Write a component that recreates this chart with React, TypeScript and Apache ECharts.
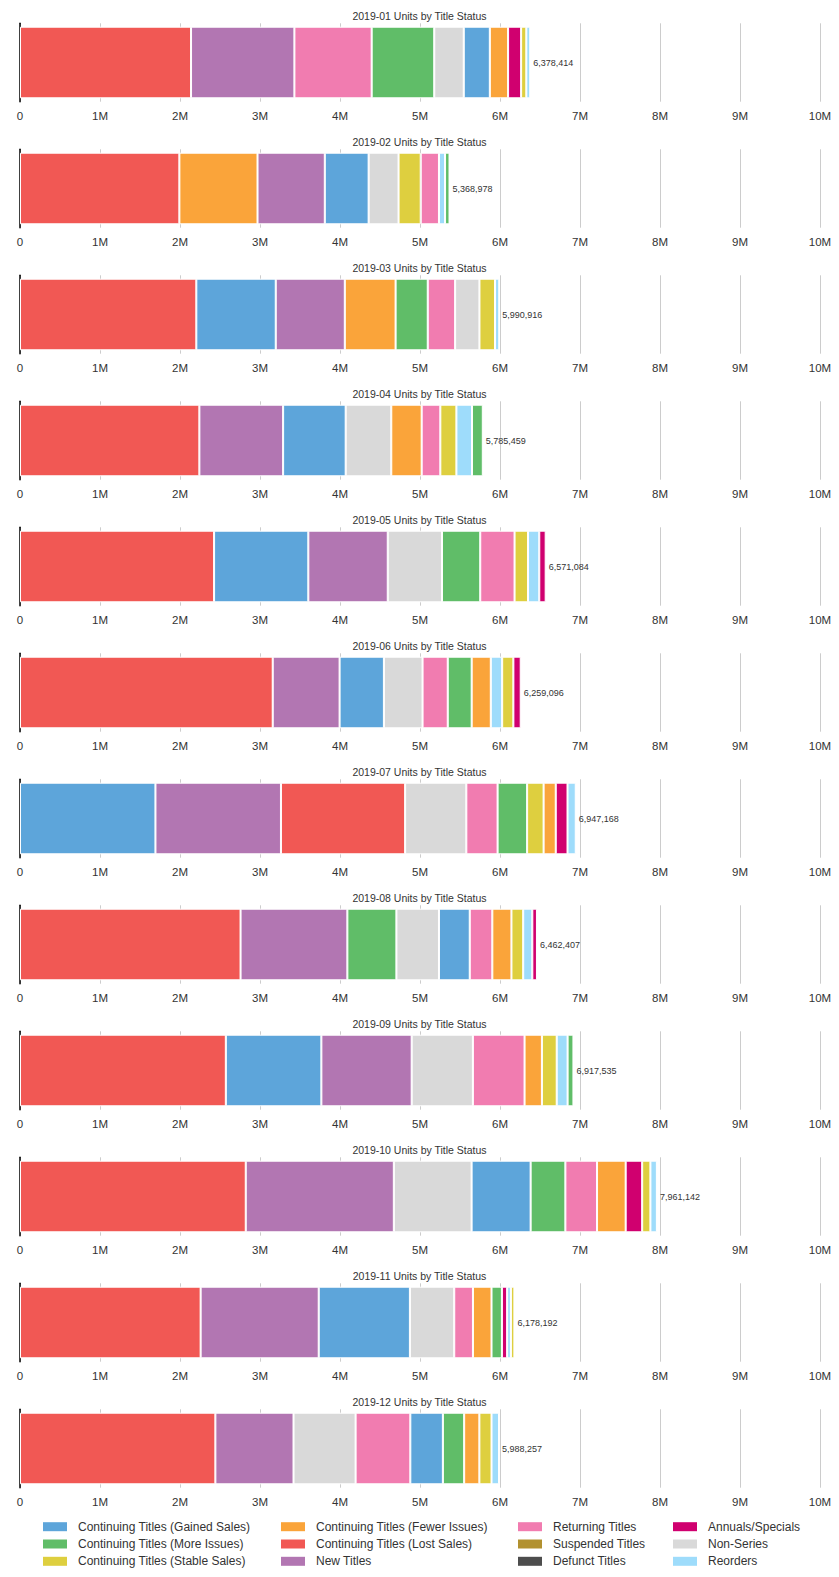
import React, { useEffect, useRef } from "react";
import * as echarts from "echarts";

// Months (one small chart per month)
const months = [
  "2019-01", "2019-02", "2019-03", "2019-04", "2019-05", "2019-06",
  "2019-07", "2019-08", "2019-09", "2019-10", "2019-11", "2019-12",
];

// Title status categories (legend order)
const categories = [
  "Continuing Titles (Gained Sales)",
  "Continuing Titles (More Issues)",
  "Continuing Titles (Stable Sales)",
  "Continuing Titles (Fewer Issues)",
  "Continuing Titles (Lost Sales)",
  "New Titles",
  "Returning Titles",
  "Suspended Titles",
  "Defunct Titles",
  "Annuals/Specials",
  "Non-Series",
  "Reorders",
];

const colors = [
  "#5DA5DA", "#60BD68", "#DECF3F", "#FAA43A", "#F15854", "#B276B2",
  "#F17CB0", "#B2912F", "#4D4D4D", "#D0006F", "#D9D9D9", "#9EDCFB",
];

// Units per month, in millions
const gainedSales = [0.326, 0.548, 0.993, 0.782, 1.178, 0.554, 1.693, 0.385, 1.194, 0.738, 1.140, 0.407];
const moreIssues = [0.782, 0.056, 0.402, 0.135, 0.478, 0.299, 0.369, 0.613, 0.073, 0.434, 0.130, 0.266];
const stableSales = [0.065, 0.277, 0.195, 0.201, 0.168, 0.140, 0.206, 0.147, 0.185, 0.103, 0.044, 0.152];
const fewerIssues = [0.228, 0.977, 0.635, 0.380, null, 0.239, 0.152, 0.239, 0.217, 0.358, 0.232, 0.190];
const lostSales = [2.138, 1.992, 2.204, 2.242, 2.426, 3.159, 1.552, 2.757, 2.573, 2.822, 2.258, 2.442];
const newTitles = [1.292, 0.841, 0.863, 1.047, 0.993, 0.836, 1.569, 1.335, 1.129, 1.851, 1.476, 0.977];
const returningTitles = [0.966, 0.228, 0.342, 0.233, 0.429, 0.315, 0.391, 0.282, 0.646, 0.396, 0.234, 0.684];
const suspendedTitles = [null, null, null, null, null, null, null, null, null, null, null, null];
const defunctTitles = [null, null, null, null, null, null, null, null, null, null, null, null];
const annualsSpecials = [0.163, null, null, null, 0.080, 0.092, 0.147, 0.058, null, 0.206, 0.065, null];
const nonSeries = [0.369, 0.374, 0.304, 0.570, 0.678, 0.483, 0.765, 0.532, 0.765, 0.972, 0.554, 0.776];
const reorders = [0.049, 0.076, 0.053, 0.195, 0.141, 0.142, 0.103, 0.114, 0.136, 0.081, 0.047, 0.094];

// Total units label per month
const totals = [6378414, 5368978, 5990916, 5785459, 6571084, 6259096, 6947168, 6462407, 6917535, 7961142, 6178192, 5988257];

const xTicks = [0, 1, 2, 3, 4, 5, 6, 7, 8, 9, 10];

const values: (number | null)[][] = [
  gainedSales, moreIssues, stableSales, fewerIssues, lostSales, newTitles,
  returningTitles, suspendedTitles, defunctTitles, annualsSpecials, nonSeries, reorders,
];

const FONT = "'Liberation Sans', Arial, Helvetica, sans-serif";
const PITCH = 126;
const GRID_TOP = 23.3;
const GRID_H = 78.4;

export default function App() {
  const ref = useRef<HTMLDivElement>(null);

  useEffect(() => {
    document.body.style.margin = "0";
    if (!ref.current) return;
    const chart = echarts.init(ref.current, null, { renderer: "svg" });

    const grid = months.map((_, i) => ({
      left: 20,
      right: 19,
      top: GRID_TOP + PITCH * i,
      height: GRID_H,
    }));

    const xAxis = months.map((_, i) => ({
      gridIndex: i,
      type: "value",
      min: xTicks[0],
      max: xTicks[xTicks.length - 1],
      interval: 1,
      axisLine: { show: false },
      axisTick: { show: false },
      splitLine: { show: true, lineStyle: { color: "#cccccc", width: 1 } },
      axisLabel: {
        fontSize: 11.5,
        color: "#333",
        margin: 8,
        fontFamily: FONT,
        formatter: (v: number) => (v === 0 ? "0" : `${v}M`),
      },
    }));

    const yAxis = months.map((m, i) => ({
      gridIndex: i,
      type: "category",
      data: [m],
      axisLine: { show: true, lineStyle: { color: "#000", width: 1.5 } },
      axisTick: { show: false },
      axisLabel: { show: false },
      splitLine: { show: false },
    }));

    const title = months.map((m, i) => ({
      text: `${m} Units by Title Status`,
      left: "center",
      top: 10 + PITCH * i,
      padding: 0,
      textStyle: { fontSize: 10.5, fontWeight: "normal", color: "#333", fontFamily: FONT },
    }));

    const series: any[] = [];
    months.forEach((_, i) => {
      const items = categories
        .map((c, k) => ({ k, v: values[k][i] }))
        .filter((d) => d.v !== null && d.v !== undefined)
        .sort((a, b) => (b.v as number) - (a.v as number));
      items.forEach((d, j) => {
        const last = j === items.length - 1;
        series.push({
          type: "bar",
          name: categories[d.k],
          stack: "s" + i,
          xAxisIndex: i,
          yAxisIndex: i,
          barWidth: 71.6,
          data: [d.v],
          itemStyle: { color: colors[d.k], borderColor: "#fff", borderWidth: 1 },
          label: last
            ? {
                show: true,
                position: "right",
                distance: 3,
                fontSize: 9,
                color: "#333",
                fontFamily: FONT,
                formatter: () => totals[i].toLocaleString("en-US"),
              }
            : { show: false },
        });
      });
    });
    // categories without data still appear in the legend
    categories.forEach((c, k) => {
      if (values[k].every((v) => v === null)) {
        series.push({
          type: "bar",
          name: c,
          stack: "s0",
          xAxisIndex: 0,
          yAxisIndex: 0,
          barWidth: 71.6,
          data: [],
          itemStyle: { color: colors[k] },
        });
      }
    });

    const legendCols = [
      { left: 43, names: [categories[0], categories[1], categories[2]] },
      { left: 281, names: [categories[3], categories[4], categories[5]] },
      { left: 518, names: [categories[6], categories[7], categories[8]] },
      { left: 673, names: [categories[9], categories[10], categories[11]] },
    ];
    const legend = legendCols.map((col) => ({
      orient: "vertical",
      left: col.left,
      top: 1519.7,
      padding: 0,
      itemWidth: 24,
      itemHeight: 9,
      itemGap: 3.3,
      icon: "rect",
      selectedMode: false,
      data: col.names,
      itemStyle: { borderWidth: 0 },
      textStyle: {
        fontSize: 12,
        color: "#333",
        fontFamily: FONT,
        lineHeight: 14,
        padding: [0, 0, 0, 6],
      },
    }));

    chart.setOption({
      animation: false,
      textStyle: { fontFamily: FONT },
      title,
      grid,
      xAxis,
      yAxis,
      legend,
      series,
    });

    return () => chart.dispose();
  }, []);

  return <div ref={ref} style={{ width: 839, height: 1577 }} />;
}
